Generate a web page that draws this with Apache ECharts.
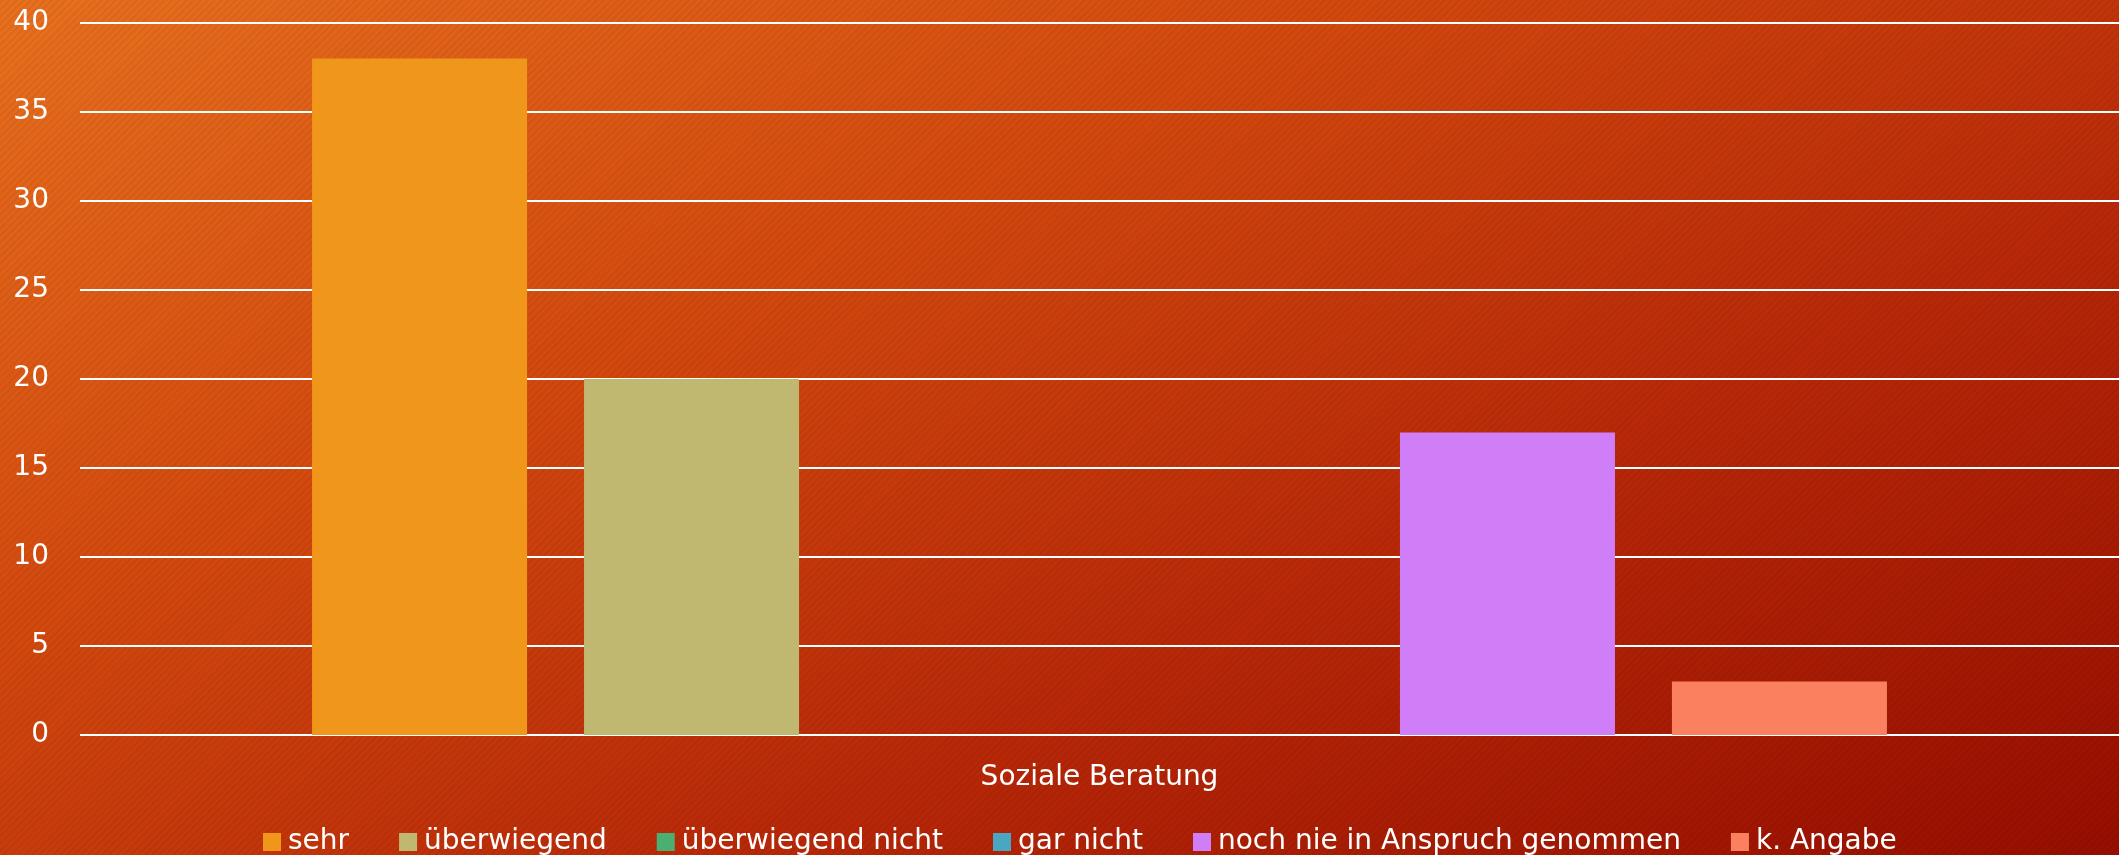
<!DOCTYPE html>
<html>
<head>
<meta charset="utf-8">
<script src="https://cdn.jsdelivr.net/npm/echarts@6/dist/echarts.min.js"></script>
<style>
html,body{margin:0;padding:0;}
#wrap{position:relative;width:2119px;height:855px;
background:linear-gradient(155deg,#E8701E 0%,#D2480E 35%,#B82808 65%,#960E00 100%);}
#wrap:before{content:"";position:absolute;left:0;top:0;right:0;bottom:0;
background:repeating-linear-gradient(-45deg,rgba(0,0,0,0.05) 0px,rgba(0,0,0,0.05) 2px,rgba(255,255,255,0) 2px,rgba(255,255,255,0) 5px);}
#chart{position:absolute;left:0;top:0;width:2119px;height:855px;}
</style>
</head>
<body>
<div id="wrap"><div id="chart"></div></div>
<script>
const categories = ['Soziale Beratung'];
const seriesNames = ['sehr','überwiegend','überwiegend nicht','gar nicht','noch nie in Anspruch genommen','k. Angabe'];
const seriesValues = [[38],[20],[0],[0],[17],[3]];
const seriesColors = ['#F0961A','#C0B870','#4CAF72','#4BA6C4','#D07EF8','#FA8060'];
const yTicks = {min:0, max:40, interval:5};

const FONT = 'DejaVu Sans';
const chart = echarts.init(document.getElementById('chart'), null, {renderer:'canvas'});
chart.setOption({
  backgroundColor:'transparent',
  textStyle:{fontFamily:FONT},
  animation:false,
  grid:{left:80,right:0,top:23,bottom:120,containLabel:false},
  legend:{
    data:seriesNames,
    left:258, top:823,
    icon:'rect', itemWidth:18, itemHeight:18, itemGap:50,
    textStyle:{color:'#ffffff',fontSize:28,fontFamily:FONT,padding:[0,0,0,2]}
  },
  xAxis:{
    type:'category', data:categories,
    axisLine:{show:false}, axisTick:{show:false},
    axisLabel:{color:'#ffffff',fontSize:28,margin:29,fontFamily:FONT}
  },
  yAxis:{
    type:'value', min:yTicks.min, max:yTicks.max, interval:yTicks.interval,
    axisLine:{show:false}, axisTick:{show:false},
    axisLabel:{color:'#ffffff',fontSize:28,margin:31,fontFamily:FONT},
    splitLine:{lineStyle:{color:'#ffffff',width:2}}
  },
  series: seriesNames.map((n,i)=>({
    name:n, type:'bar', data:seriesValues[i],
    barWidth:215, barGap:'26.5%',
    itemStyle:{color:seriesColors[i]}
  }))
});
</script>
</body>
</html>
